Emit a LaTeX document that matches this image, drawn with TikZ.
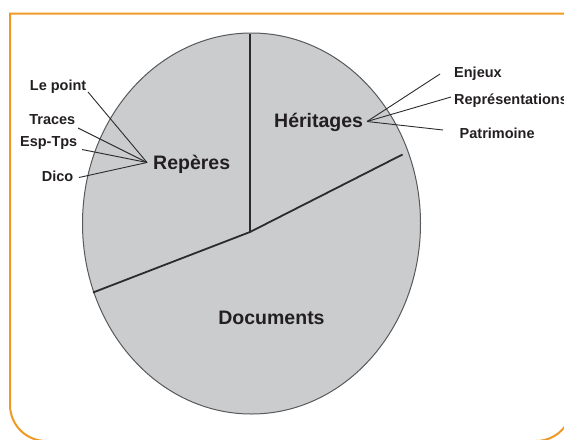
\documentclass[tikz,border=0pt]{standalone}
\usepackage{fontspec}
\setmainfont{Liberation Sans}
\begin{document}
\begin{tikzpicture}[x=1pt,y=-1pt,
  frame/.style={draw=orangeframe,line width=2pt},
  disc/.style={fill=discgray,draw=edgegray,line width=1pt},
  divide/.style={draw=darkline,line width=1.8pt},
  leader/.style={draw=darkline,line width=0.9pt},
  biglabel/.style={text=textdark,font=\fontsize{19.5}{22}\selectfont\bfseries,inner sep=0pt},
  smalllabel/.style={text=textdark,font=\fontsize{14.5}{17}\selectfont\bfseries,inner sep=0pt}]
\definecolor{orangeframe}{HTML}{EE9A25}
\definecolor{discgray}{HTML}{CBCCCE}
\definecolor{edgegray}{HTML}{58595B}
\definecolor{darkline}{HTML}{2B2B2B}
\definecolor{textdark}{HTML}{231F20}
\useasboundingbox (0,0) rectangle (564,439);
% frame
\draw[frame] (600,13.5) -- (10,13.5) -- (10,300) [rounded corners=36pt] -- (10,441) -- (572,441) -- (572,300) [sharp corners] -- (572,13.5);
% disc
\path[disc] (251.5,223.5) ellipse [x radius=169pt, y radius=190.5pt];
% dividers
\coordinate (top) at (250,33.5);
\coordinate (hub) at (250,232);
\coordinate (rend) at (402.5,154.5);
\coordinate (lend) at (93,292.5);
\draw[divide] (top) -- (hub);
\draw[divide] (lend) -- (hub) -- (rend);
% main labels
\node[biglabel,anchor=west] (rep) at (153,164) {Repères};
\node[biglabel,anchor=west] (her) at (274,122) {Héritages};
\node[biglabel] (doc) at (271.5,318) {Documents};
% left small labels
\node[smalllabel,anchor=east] (lp) at (86.5,87) {Le point};
\node[smalllabel,anchor=east] (tr) at (75.5,120) {Traces};
\node[smalllabel,anchor=east] (et) at (77.5,143) {Esp-Tps};
\node[smalllabel,anchor=east] (di) at (73.5,176.5) {Dico};
% right small labels
\node[smalllabel,anchor=west] (en) at (454,74) {Enjeux};
\node[smalllabel,anchor=west] (re) at (454,101) {Représentations};
\node[smalllabel,anchor=west] (pa) at (459.5,133) {Patrimoine};
% leader end points
\coordinate (rephub) at (147,162.5);
\coordinate (herhub) at (367,121.5);
\coordinate (lpE) at (88,92);
\coordinate (trE) at (78,128);
\coordinate (etE) at (82,149.5);
\coordinate (diE) at (79,177.5);
\coordinate (enE) at (440,74);
\coordinate (reE) at (451,97);
\coordinate (paE) at (443,130);
\draw[leader] (lpE) -- (rephub);
\draw[leader] (trE) -- (rephub);
\draw[leader] (etE) -- (rephub);
\draw[leader] (diE) -- (rephub);
\draw[leader] (enE) -- (herhub);
\draw[leader] (reE) -- (herhub);
\draw[leader] (paE) -- (herhub);
\end{tikzpicture}
\end{document}
